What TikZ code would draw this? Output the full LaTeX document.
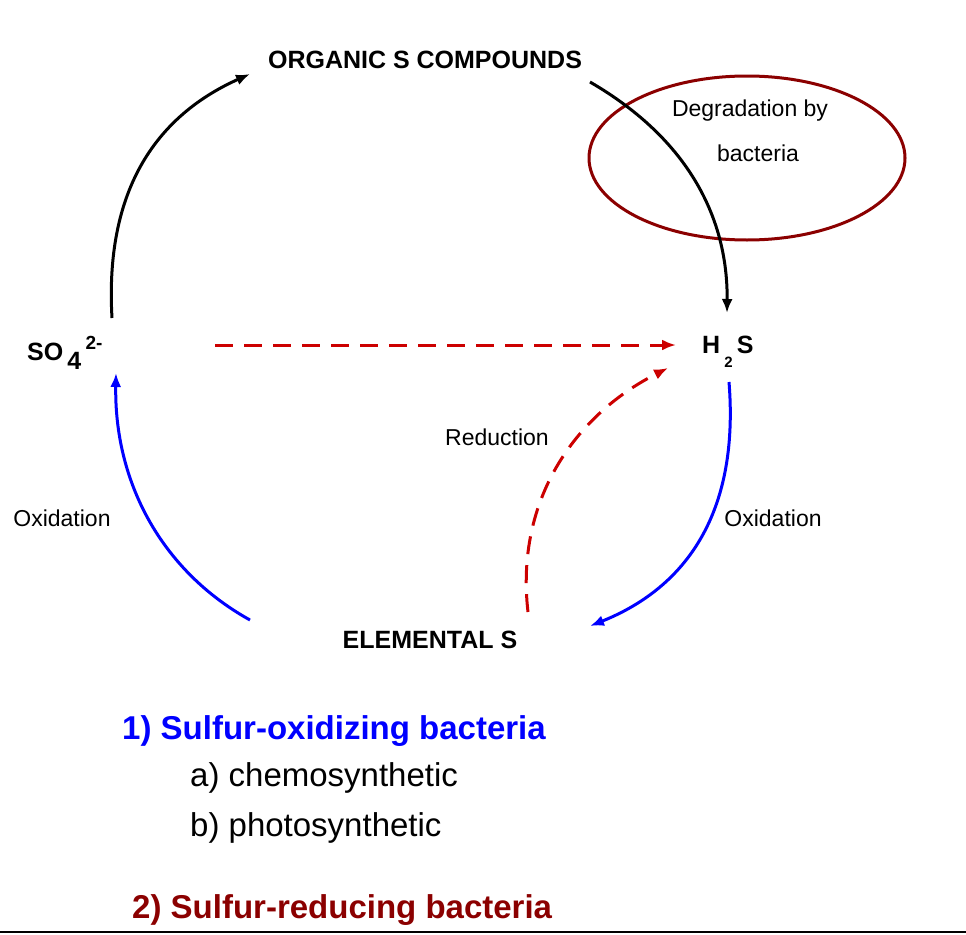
\documentclass[tikz,border=0pt]{standalone}
\usepackage{fontspec}
\setmainfont{Liberation Sans}
\usetikzlibrary{arrows.meta}
\definecolor{dred}{HTML}{8B0000}
\definecolor{mred}{HTML}{CC0000}
\definecolor{pblue}{HTML}{0000FF}
\tikzset{
  lbl/.style={font=\fontsize{25}{27}\selectfont\bfseries, inner sep=0pt},
  note/.style={font=\fontsize{23}{25}\selectfont, inner sep=0pt},
  big/.style={font=\fontsize{33}{35}\selectfont\bfseries, inner sep=0pt, anchor=west},
  sub/.style={font=\fontsize{33}{35}\selectfont, inner sep=0pt, anchor=west},
  arr/.style={line width=3pt, -{Latex[length=14pt,width=11pt]}},
  dsh/.style={line width=3pt, mred, dash pattern=on 18pt off 11pt, -{Latex[length=14pt,width=11pt]}},
}
\begin{document}
\begin{tikzpicture}[x=1pt,y=-1pt]
\useasboundingbox (0,0) rectangle (966,934);
% labels
\node[lbl] (org) at (425,60) {ORGANIC S COMPOUNDS};
\node[lbl, anchor=west] (so4) at (27,353) {SO\raisebox{-9pt}{\,4}\,\raisebox{11pt}{\fontsize{19}{20}\selectfont 2-}};
\node[lbl, anchor=west] (h2s) at (702,352) {H\raisebox{-14pt}{\,\fontsize{15}{16}\selectfont 2}\,S};
\node[lbl] (els) at (430,640) {ELEMENTAL S};
\node[note] (deg1) at (750,111) {Degradation by};
\node[note] (deg2) at (758,153) {bacteria};
\node[note] (red) at (497,437) {Reduction};
\node[note] (oxl) at (62,518) {Oxidation};
\node[note] (oxr) at (773,518) {Oxidation};
% ellipse
\draw[dred, line width=3pt] (747,158) ellipse [x radius=158, y radius=82];
% coordinates
\coordinate (a1) at (112,318);
\coordinate (a2) at (250,74);
\coordinate (b1) at (590,82);
\coordinate (b2) at (727,313);
\coordinate (c1) at (215,345);
\coordinate (c2) at (676,345);
\coordinate (d1) at (528,612);
\coordinate (d2) at (668,368);
\coordinate (e1) at (729,382);
\coordinate (e2) at (590,626);
\coordinate (f1) at (250,620);
\coordinate (f2) at (116,373);
% arrows
\draw[arr] (a1) .. controls (104,180) and (165,112) .. (a2);
\draw[arr] (b1) .. controls (690,140) and (728,220) .. (b2);
\draw[dsh] (c1) -- (c2);
\draw[dsh] (d1) .. controls (515,500) and (575,415) .. (d2);
\draw[arr, pblue] (e1) .. controls (740,520) and (680,590) .. (e2);
\draw[arr, pblue] (f1) .. controls (160,570) and (114,480) .. (f2);
% bottom texts
\node[big, pblue] (t1) at (122,731) {1) Sulfur-oxidizing bacteria};
\node[sub] (t2) at (190,778) {a) chemosynthetic};
\node[sub] (t3) at (190,828) {b) photosynthetic};
\node[big, dred] (t4) at (132,910) {2) Sulfur-reducing bacteria};
\coordinate (l1) at (0,932);
\coordinate (l2) at (966,932);
\draw[line width=2pt] (l1) -- (l2);
\end{tikzpicture}
\end{document}
